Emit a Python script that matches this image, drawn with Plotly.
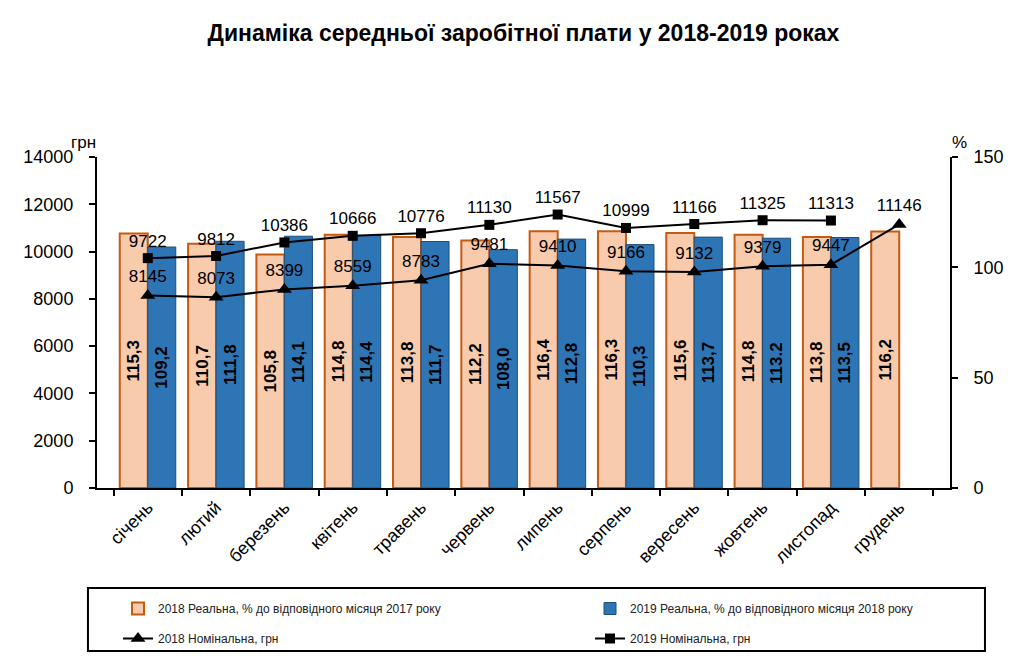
import plotly.graph_objects as go

months = ["січень", "лютий", "березень", "квітень", "травень", "червень",
          "липень", "серпень", "вересень", "жовтень", "листопад", "грудень"]

real_2018 = [115.3, 110.7, 105.8, 114.8, 113.8, 112.2, 116.4, 116.3, 115.6, 114.8, 113.8, 116.2]
real_2018_labels = ["115,3", "110,7", "105,8", "114,8", "113,8", "112,2",
                    "116,4", "116,3", "115,6", "114,8", "113,8", "116,2"]
real_2019 = [109.2, 111.8, 114.1, 114.4, 111.7, 108.0, 112.8, 110.3, 113.7, 113.2, 113.5, None]
real_2019_labels = ["109,2", "111,8", "114,1", "114,4", "111,7", "108,0",
                    "112,8", "110,3", "113,7", "113.2", "113,5", ""]
nom_2018 = [8145, 8073, 8399, 8559, 8783, 9481, 9410, 9166, 9132, 9379, 9447, 11146]
nom_2019 = [9722, 9812, 10386, 10666, 10776, 11130, 11567, 10999, 11166, 11325, 11313]

num_font = "Liberation Sans, Arial, sans-serif"

fig = go.Figure()

fig.add_trace(go.Bar(
    x=months, y=real_2018, name="2018 Реальна, % до відповідного місяця 2017 року",
    marker=dict(color="#F8CBAD", line=dict(color="#C55A11", width=2)),
    text=real_2018_labels, textposition="inside", insidetextanchor="middle",
    textangle=-90, constraintext="none",
    insidetextfont=dict(family=num_font, size=17, color="black", weight="bold"),
    yaxis="y", legend="legend", legendgroup="a",
))
fig.add_trace(go.Bar(
    x=months, y=real_2019, name="2019 Реальна, % до відповідного місяця 2018 року",
    marker=dict(color="#2E75B6", line=dict(color="#1F4E79", width=1)),
    text=real_2019_labels, textposition="inside", insidetextanchor="middle",
    textangle=-90, constraintext="none",
    insidetextfont=dict(family=num_font, size=17, color="black", weight="bold"),
    yaxis="y", legend="legend2", legendgroup="c",
))
fig.add_trace(go.Scatter(
    x=months, y=nom_2018, name="2018 Номінальна, грн", mode="lines+markers+text",
    line=dict(color="black", width=2),
    marker=dict(symbol="triangle-up", size=13, color="black"),
    text=[str(v) for v in nom_2018], textposition="top center",
    textfont=dict(family=num_font, size=17, color="black"),
    cliponaxis=False, yaxis="y2", legend="legend", legendgroup="b",
))
fig.add_trace(go.Scatter(
    x=months[:len(nom_2019)], y=nom_2019, name="2019 Номінальна, грн", mode="lines+markers+text",
    line=dict(color="black", width=2),
    marker=dict(symbol="square", size=10, color="black"),
    text=[str(v) for v in nom_2019], textposition="top center",
    textfont=dict(family=num_font, size=17, color="black"),
    cliponaxis=False, yaxis="y2", legend="legend2", legendgroup="d",
))

legend_common = dict(
    orientation="v", yanchor="top", xanchor="left", traceorder="grouped",
    font=dict(family=num_font, size=12, color="#222222"),
    bgcolor="rgba(0,0,0,0)", tracegroupgap=11,
)

OFF = 8  # page body margin
W, H = 1024 - OFF, 671 - OFF

fig.update_layout(
    width=W, height=H,
    margin=dict(l=97 - OFF, r=W - (97 - OFF) - 853, t=157 - OFF, b=H - (157 - OFF) - 331),
    paper_bgcolor="white", plot_bgcolor="white",
    font=dict(family=num_font, color="black"),
    barmode="group", bargap=0.18, bargroupgap=0,
    showlegend=True,
    title=dict(text="<b>Динаміка середньої заробітної плати у 2018-2019 роках</b>",
               x=0.5, xref="paper", xanchor="center", y=1 - (33 - OFF) / H, yanchor="middle",
               font=dict(family=num_font, size=23, color="black")),
    xaxis=dict(
        type="category", tickangle=-45, tickson="boundaries",
        ticks="outside", ticklen=6, tickcolor="black", tickwidth=2,
        showline=True, linecolor="black", linewidth=2,
        showgrid=False, tickfont=dict(family=num_font, size=18, color="black"),
    ),
    yaxis=dict(
        side="right", range=[0, 150], tickvals=[0, 50, 100, 150],
        ticks="outside", ticklen=6, tickcolor="black", tickwidth=2,
        showline=True, linecolor="black", linewidth=2, showgrid=False, zeroline=False,
        ticklabelstandoff=12,
        tickfont=dict(family=num_font, size=18, color="black"),
    ),
    yaxis2=dict(
        side="left", overlaying="y", range=[0, 14000], tickformat="d",
        tickvals=[0, 2000, 4000, 6000, 8000, 10000, 12000, 14000],
        ticks="outside", ticklen=6, tickcolor="black", tickwidth=2,
        showline=True, linecolor="black", linewidth=2, showgrid=False, zeroline=False,
        ticklabelstandoff=12,
        tickfont=dict(family=num_font, size=18, color="black"),
    ),
    legend=dict(x=(118 - 97) / 853, y=(488 - 594) / 331, **legend_common),
    legend2=dict(x=(590 - 97) / 853, y=(488 - 594) / 331, **legend_common),
    shapes=[dict(type="rect", xref="paper", yref="paper",
                 x0=-0.0106, x1=1.041, y0=-0.4924, y1=-0.302,
                 line=dict(color="black", width=2), fillcolor="rgba(0,0,0,0)")],
    annotations=[
        dict(text="грн", xref="paper", yref="paper", x=(83 - 97) / 853, y=(488 - 143) / 331,
             xanchor="center", yanchor="middle",
             showarrow=False, font=dict(family=num_font, size=17, color="black")),
        dict(text="%", xref="paper", yref="paper", x=(960 - 97) / 853, y=(488 - 143) / 331,
             xanchor="center", yanchor="middle",
             showarrow=False, font=dict(family=num_font, size=17, color="black")),
    ],
)

fig.write_html("out.html")
